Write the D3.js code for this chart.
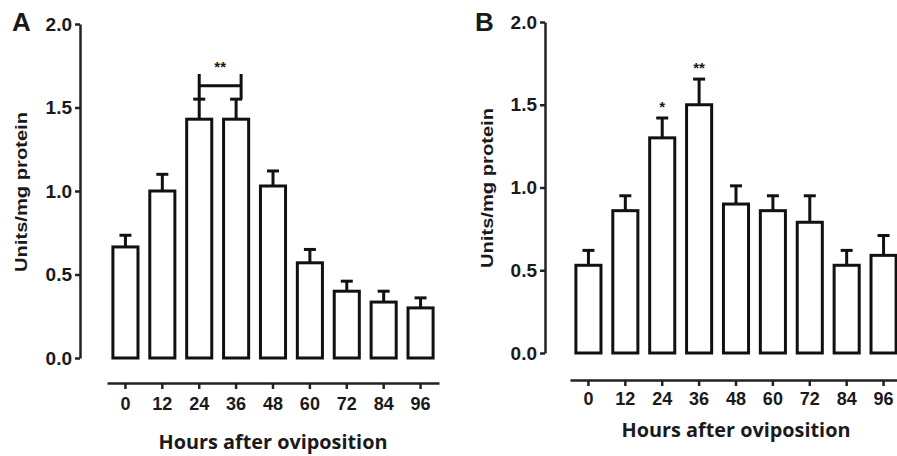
<!DOCTYPE html>
<html>
<head>
<meta charset="utf-8">
<script src="https://cdn.jsdelivr.net/npm/d3@7"></script>
<style>
  body { margin: 0; background: #fff; }
  svg text { fill: #1a1a1a; }
</style>
</head>
<body>
<svg id="chart" width="897" height="456"></svg>
<script>
// hours after oviposition
const hours = ["0", "12", "24", "36", "48", "60", "72", "84", "96"];
// panel A means and SEM
const meanA = [0.665, 1.0, 1.43, 1.43, 1.03, 0.57, 0.40, 0.335, 0.30];
const errA = [0.07, 0.10, 0.12, 0.12, 0.09, 0.08, 0.06, 0.065, 0.06];
// panel B means and SEM
const meanB = [0.53, 0.86, 1.30, 1.50, 0.90, 0.86, 0.79, 0.53, 0.59];
const errB = [0.09, 0.09, 0.12, 0.155, 0.11, 0.09, 0.16, 0.09, 0.12];
const yTicks = [0, 0.5, 1.0, 1.5, 2.0];

const svg = d3.select("#chart");
const arial = "'Liberation Sans', Arial, Helvetica, sans-serif";

function label(sel, size, family, weight) {
    sel.style("font-family", family || arial)
        .style("font-weight", weight || "bold")
        .style("font-size", size + "px")
        .style("fill", "#1a1a1a");
}

function drawPanel(p) {
    const g = svg.append("g");
    const x = d3.scaleBand().domain(hours).range(p.xRange).paddingInner(0.32).paddingOuter(0.16);
    const y = d3.scaleLinear().domain([0, 2]).range(p.yRange);
    const bw = x.bandwidth();

    // y axis
    const yAxis = g.append("g")
        .attr("transform", "translate(" + p.yAxisX + ",0)")
        .call(d3.axisLeft(y).tickValues(yTicks).tickFormat(d3.format(".1f")).tickSize(5).tickSizeOuter(0).tickPadding(3));
    yAxis.select(".domain").attr("stroke-width", 2.5).attr("stroke", "#222");
    yAxis.selectAll(".tick line").attr("stroke-width", 2.5).attr("stroke", "#222");
    label(yAxis.selectAll(".tick text"), 19);

    // x axis, separate from the bars
    const xAxis = g.append("g")
        .attr("transform", "translate(0," + p.xAxisY + ")")
        .call(d3.axisBottom(x).tickSize(6).tickSizeOuter(0).tickPadding(p.xPad));
    xAxis.select(".domain").attr("stroke-width", 2.5).attr("stroke", "#222");
    xAxis.selectAll(".tick line").attr("stroke-width", 2.5).attr("stroke", "#222");
    label(xAxis.selectAll(".tick text"), 18);

    // error bars
    g.selectAll(".err").data(hours).enter().append("line")
        .attr("x1", (d) => x(d) + bw / 2).attr("x2", (d) => x(d) + bw / 2)
        .attr("y1", (d, i) => y(p.mean[i])).attr("y2", (d, i) => y(p.mean[i] + p.err[i]))
        .attr("stroke", "#111").attr("stroke-width", 3);
    g.selectAll(".cap").data(hours).enter().append("line")
        .attr("x1", (d) => x(d) + bw / 2 - 6).attr("x2", (d) => x(d) + bw / 2 + 6)
        .attr("y1", (d, i) => y(p.mean[i] + p.err[i])).attr("y2", (d, i) => y(p.mean[i] + p.err[i]))
        .attr("stroke", "#111").attr("stroke-width", 3);

    // bars
    g.selectAll(".bar").data(hours).enter().append("rect")
        .attr("x", (d) => x(d))
        .attr("width", bw)
        .attr("y", (d, i) => y(p.mean[i]))
        .attr("height", (d, i) => y(0) - y(p.mean[i]))
        .attr("fill", "#fff").attr("stroke", "#111").attr("stroke-width", 3);

    // panel letter
    label(g.append("text").attr("x", p.letterX).attr("y", 31).text(p.letter), 26);

    // y title (the original lettering is a bit stretched)
    label(g.append("text")
        .attr("transform", "translate(" + p.yTitleX + "," + p.yTitleY + ") rotate(-90)")
        .attr("text-anchor", "middle").attr("dy", "0.35em")
        .attr("textLength", 160).attr("lengthAdjust", "spacingAndGlyphs")
        .text("Units/mg protein"), 17);

    // x title
    label(g.append("text").attr("x", p.xTitleX).attr("y", p.xTitleY)
        .attr("text-anchor", "middle")
        .attr("textLength", 229).attr("lengthAdjust", "spacingAndGlyphs")
        .text("Hours after oviposition"), 19, "'Open Sans', sans-serif", "bold");

    return {g: g, x: x, y: y, bw: bw};
}

const a = drawPanel({
    mean: meanA, err: errA, letter: "A", letterX: 12,
    xRange: [107, 439], yRange: [358, 24], yAxisX: 80,
    xAxisY: 383, xPad: 8, yTitleX: 21, yTitleY: 192,
    xTitleX: 273, xTitleY: 449
});

// significance bracket between 24 and 36 h
const bx1 = a.x("24") + a.bw / 2;
const bx2 = a.x("36") + a.bw / 2 + 5;
a.g.append("path")
    .attr("d", "M" + bx1 + "," + a.y(1.70) + "V" + a.y(1.55) +
        "M" + bx2 + "," + a.y(1.70) + "V" + a.y(1.55) +
        "M" + bx1 + "," + a.y(1.63) + "H" + bx2)
    .attr("fill", "none").attr("stroke", "#111").attr("stroke-width", 3);
label(a.g.append("text").attr("x", (bx1 + bx2) / 2).attr("y", a.y(1.71))
    .attr("text-anchor", "middle").text("**"), 15);

const b = drawPanel({
    mean: meanB, err: errB, letter: "B", letterX: 475,
    xRange: [570, 902], yRange: [353, 22], yAxisX: 545,
    xAxisY: 380, xPad: 6, yTitleX: 487, yTitleY: 188,
    xTitleX: 736, xTitleY: 437
});

// significance stars in B
const stars = [{h: "24", s: "*"}, {h: "36", s: "**"}];
label(b.g.selectAll(".star").data(stars).enter().append("text")
    .attr("x", (d) => b.x(d.h) + b.bw / 2)
    .attr("y", (d) => b.y(meanB[hours.indexOf(d.h)] + errB[hours.indexOf(d.h)]) - 6)
    .attr("text-anchor", "middle")
    .text((d) => d.s), 15);
</script>
</body>
</html>
